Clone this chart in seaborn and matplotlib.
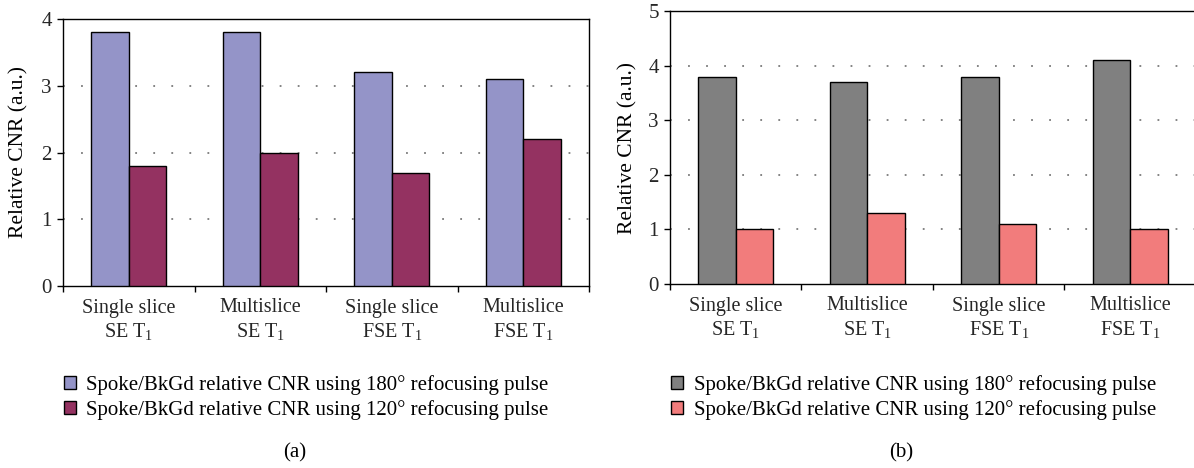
import matplotlib
matplotlib.use("Agg")
import matplotlib.pyplot as plt
import seaborn as sns
import pandas as pd

categories = ["Single slice\nSE T$_1$", "Multislice\nSE T$_1$",
              "Single slice\nFSE T$_1$", "Multislice\nFSE T$_1$"]
series_names = ["Spoke/BkGd relative CNR using 180° refocusing pulse",
                "Spoke/BkGd relative CNR using 120° refocusing pulse"]
a_180 = [3.8, 3.8, 3.2, 3.1]
a_120 = [1.8, 2.0, 1.7, 2.2]
b_180 = [3.8, 3.7, 3.8, 4.1]
b_120 = [1.0, 1.3, 1.1, 1.0]
a_yticks = [0, 1, 2, 3, 4]
b_yticks = [0, 1, 2, 3, 4, 5]
ylabel = "Relative CNR (a.u.)"
captions = ["(a)", "(b)"]

sns.set_theme(style="white")
plt.rcParams['font.family'] = ['Liberation Serif', 'DejaVu Serif']
plt.rcParams['mathtext.fontset'] = 'custom'
plt.rcParams['mathtext.rm'] = 'Liberation Serif'
plt.rcParams['mathtext.it'] = 'Liberation Serif:italic'
plt.rcParams['text.color'] = 'black'

W, H = 1194, 468
fig = plt.figure(figsize=(W / 100, H / 100), dpi=100)

def make_df(v1, v2):
    rows = []
    for c, x in zip(categories, v1):
        rows.append({"cat": c, "val": x, "series": series_names[0]})
    for c, x in zip(categories, v2):
        rows.append({"cat": c, "val": x, "series": series_names[1]})
    return pd.DataFrame(rows)

def px_axes(left, top, right, bottom):
    return fig.add_axes([left / W, 1 - bottom / H, (right - left) / W, (bottom - top) / H])

panels = [
    dict(box=(63, 19, 589, 286), s1=a_180, s2=a_120, colors=["#9494C8", "#943261"],
         yticks=a_yticks, ylab_x=19, leg=(64, 375), cap=(295, 453)),
    dict(box=(670, 11, 1196, 284), s1=b_180, s2=b_120, colors=["#808080", "#F27C7C"],
         yticks=b_yticks, ylab_x=628, leg=(671, 375), cap=(901, 453)),
]

for i, p in enumerate(panels):
    ax = px_axes(*p["box"])
    df = make_df(p["s1"], p["s2"])
    sns.barplot(data=df, x="cat", y="val", hue="series", palette=p["colors"],
                width=0.57, gap=0, edgecolor="black", linewidth=1.0, saturation=1,
                ax=ax, zorder=3)
    handles, labels = ax.get_legend_handles_labels()
    if ax.get_legend() is not None:
        ax.get_legend().remove()
    ax.set_xlim(-0.5, 3.5)
    ax.set_ylim(p["yticks"][0], p["yticks"][-1])
    ax.set_yticks(p["yticks"])
    ax.set_yticklabels([str(t) for t in p["yticks"]], fontsize=15)
    ax.set_xticks([-0.5, 0.5, 1.5, 2.5, 3.5])
    ax.set_xticklabels([])
    ax.set_xticks([0, 1, 2, 3], minor=True)
    ax.set_xticklabels(categories, minor=True, fontsize=14.5, linespacing=1.2)
    ax.tick_params(axis="x", which="major", direction="out", length=4, width=1, color="black", bottom=True)
    ax.tick_params(axis="x", which="minor", length=0, pad=9)
    ax.tick_params(axis="y", direction="out", length=4, width=1, color="black", left=True, pad=4)
    ax.set_xlabel("")
    ax.set_ylabel("")
    for t in p["yticks"][1:]:
        if t < p["yticks"][-1]:
            ax.axhline(t, color="#7a7a7a", linestyle=(0, (1, 9)), linewidth=1.3, zorder=1)
    for s in ax.spines.values():
        s.set_color("black")
        s.set_linewidth(1.0)
    fig.text(p["ylab_x"] / W, 1 - ((p["box"][1] + p["box"][3]) / 2) / H, ylabel,
             rotation=90, ha="center", va="center", fontsize=15.5)
    fig.legend(handles, labels, loc="upper left",
               bbox_to_anchor=(p["leg"][0] / W, 1 - p["leg"][1] / H),
               frameon=False, fontsize=15, handlelength=0.58, handleheight=0.58,
               handletextpad=0.5, labelspacing=0.25, borderaxespad=0, borderpad=0)
    fig.text(p["cap"][0] / W, 1 - p["cap"][1] / H, captions[i], ha="center", va="center",
             fontsize=15)

fig.savefig("out.png", dpi=100)
